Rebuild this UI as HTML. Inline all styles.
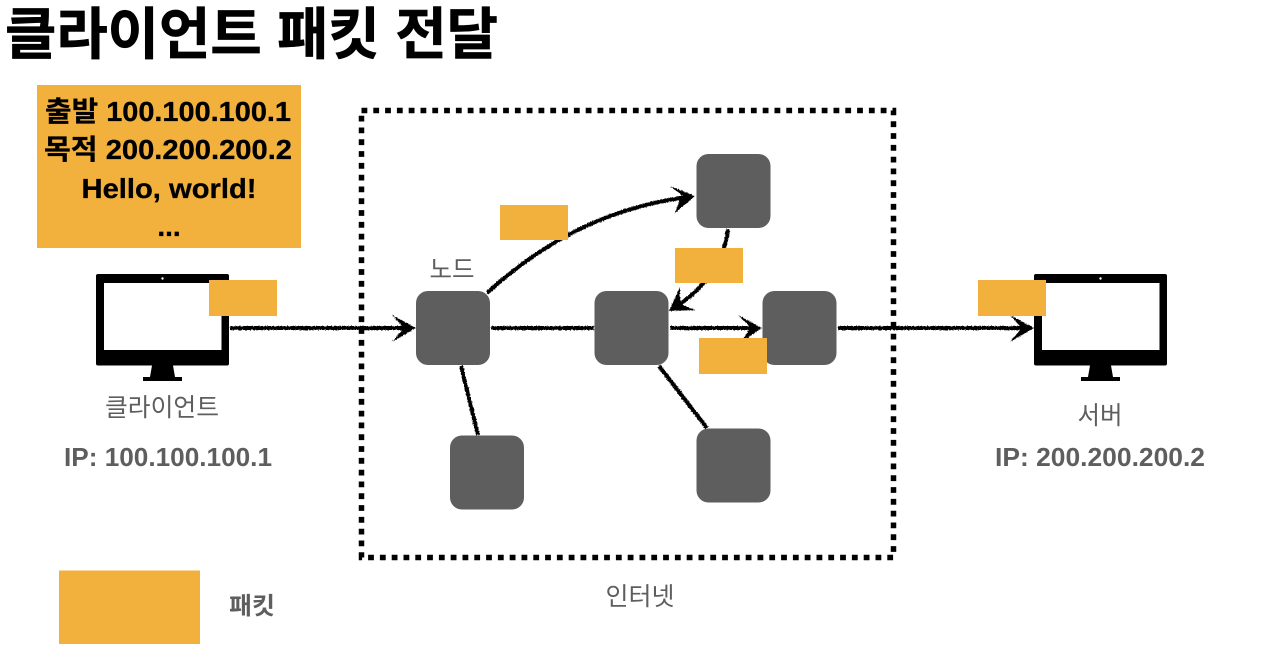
<!DOCTYPE html>
<html lang="ko">
<head>
<meta charset="utf-8">
<title>클라이언트 패킷 전달</title>
<style>
html,body{margin:0;padding:0;background:#fff;width:1280px;height:668px;overflow:hidden}
svg{display:block}
text{font-family:"Liberation Sans","Noto Sans CJK KR",sans-serif}
.b{font-weight:700}
.g{fill:#5e5e5e}
.k{fill:#000}
.m{text-anchor:middle}
.n{fill:#5e5e5e}
.p{fill:#f2b13c}
.l{fill:none;stroke:#000;stroke-width:4}
.h{fill:#000}
</style>
</head>
<body>
<svg width="1280" height="668" viewBox="0 0 1280 668" xmlns="http://www.w3.org/2000/svg">
<defs>
<filter id="rough" x="0" y="0" width="1280" height="668" filterUnits="userSpaceOnUse">
<feTurbulence type="fractalNoise" baseFrequency="0.8" numOctaves="2" seed="4" result="t"/>
<feDisplacementMap in="SourceGraphic" in2="t" scale="2.6" xChannelSelector="R" yChannelSelector="G"/>
</filter>
</defs>
<rect width="1280" height="668" fill="#fff"/>

<text x="5" y="54" class="b k" font-size="56" stroke="#000" stroke-width="0.7" textLength="493" lengthAdjust="spacingAndGlyphs">클라이언트 패킷 전달</text>

<rect x="37" y="85" width="264" height="163" class="p"/>
<text x="168" y="121" class="b k m" font-size="28" stroke="#000" stroke-width="0.3" textLength="246" lengthAdjust="spacingAndGlyphs">출발 100.100.100.1</text>
<text x="168" y="159" class="b k m" font-size="28" stroke="#000" stroke-width="0.3" textLength="248" lengthAdjust="spacingAndGlyphs">목적 200.200.200.2</text>
<text x="169" y="198" class="b k m" font-size="28" stroke="#000" stroke-width="0.3" textLength="175" lengthAdjust="spacingAndGlyphs">Hello, world!</text>
<text x="169" y="236" class="b k m" font-size="28" stroke="#000" stroke-width="0.3">...</text>

<rect x="361.5" y="110.5" width="532" height="447" fill="none" stroke="#000" stroke-width="5.5" stroke-dasharray="5.8 6"/>

<!-- client monitor -->
<rect x="96" y="274" width="133" height="91.500" rx="2" fill="#000"/>
<rect x="104" y="283" width="117.500" height="67" fill="#fff"/>
<circle cx="162.500" cy="278.500" r="1.200" fill="#fff"/>
<path d="M152 365.500H173L175 377H182V381H143V377H150Z" fill="#000"/>

<!-- server monitor -->
<rect x="1034" y="274" width="133" height="91.500" rx="2" fill="#000"/>
<rect x="1042" y="283" width="117.500" height="67" fill="#fff"/>
<circle cx="1100.500" cy="278.500" r="1.200" fill="#fff"/>
<path d="M1090 365.500H1111L1113 377H1120V381H1081V377H1088Z" fill="#000"/>

<!-- connectors -->
<g filter="url(#rough)">
<path class="l" d="M230 328H408"/>
<path class="h" d="M392 315L416 328L392 342L402 330V326Z"/>
<path class="l" d="M491 328H594"/>
<path class="l" d="M670 328H754"/>
<path class="h" d="M738 315L762 328L741 342L749 330V326Z"/>
<path class="l" d="M838 328H1026"/>
<path class="h" d="M1010 315L1034 328L1010 342L1020 330V326Z"/>
<path class="l" d="M487 293C545 240 610 207 688 197"/>
<path class="h" d="M670 186L695 196L675 213L680 199L683 196Z"/>
<path class="l" d="M728 229C726 252 710 285 678 305"/>
<path class="h" d="M680 287L669 311L695 310L683 305L680 301Z"/>
<path class="l" d="M461 366L478 435"/>
<path class="l" d="M659 366L707 428"/>
</g>

<!-- nodes -->
<rect x="416" y="291" width="74" height="74" rx="12" class="n"/>
<rect x="594.500" y="291" width="74" height="74" rx="12" class="n"/>
<rect x="762.500" y="291" width="74" height="74" rx="12" class="n"/>
<rect x="696.500" y="154" width="74" height="74" rx="12" class="n"/>
<rect x="450" y="435.500" width="74" height="74" rx="12" class="n"/>
<rect x="696.500" y="428.500" width="74" height="74" rx="12" class="n"/>

<!-- packets -->
<rect x="209" y="280" width="68" height="36" class="p"/>
<rect x="500" y="205" width="68" height="35" class="p"/>
<rect x="675" y="248" width="68" height="35" class="p"/>
<rect x="699" y="338" width="68" height="36" class="p"/>
<rect x="978" y="280" width="68" height="36" class="p"/>
<rect x="59" y="570.500" width="141" height="73.500" class="p"/>

<!-- labels -->
<text x="452" y="278" class="g m" font-size="25" textLength="45" lengthAdjust="spacingAndGlyphs">노드</text>
<text x="162" y="416" class="g m" font-size="25" textLength="114" lengthAdjust="spacingAndGlyphs">클라이언트</text>
<text x="168" y="466" class="b g m" font-size="26" textLength="208" lengthAdjust="spacingAndGlyphs">IP: 100.100.100.1</text>
<text x="1100" y="424" class="g m" font-size="25" textLength="45" lengthAdjust="spacingAndGlyphs">서버</text>
<text x="1100" y="466" class="b g m" font-size="26" textLength="210" lengthAdjust="spacingAndGlyphs">IP: 200.200.200.2</text>
<text x="640" y="605" class="g m" font-size="25" textLength="69" lengthAdjust="spacingAndGlyphs">인터넷</text>
<text x="252" y="614" class="b g m" font-size="24" textLength="46" lengthAdjust="spacingAndGlyphs">패킷</text>
</svg>
</body>
</html>
